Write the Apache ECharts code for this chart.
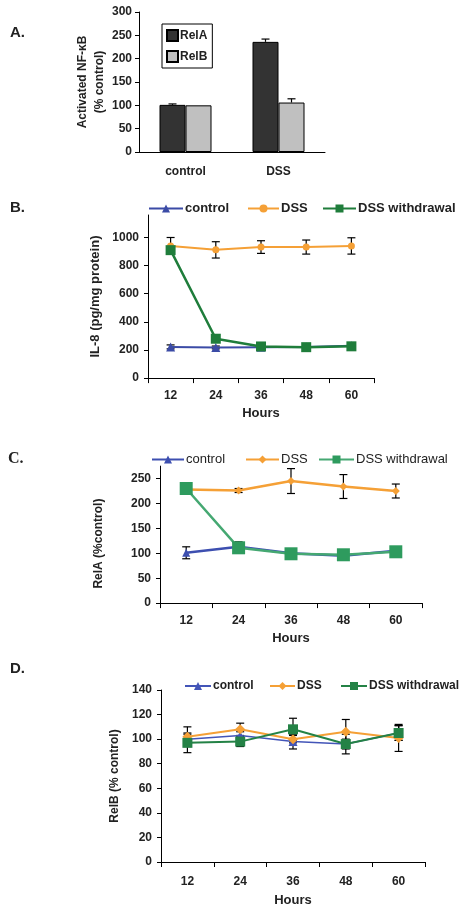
<!DOCTYPE html>
<html>
<head>
<meta charset="utf-8">
<script src="https://cdn.jsdelivr.net/npm/echarts@6/dist/echarts.min.js"></script>
<style>
html,body{margin:0;padding:0;background:#fff;}
.p{position:absolute;left:0;width:462px;}
</style>
</head>
<body>
<div id="cA" class="p" style="top:0;height:190px"></div>
<div id="cB" class="p" style="top:190px;height:235px"></div>
<div id="cC" class="p" style="top:425px;height:225px"></div>
<div id="cD" class="p" style="top:650px;height:262px"></div>
<script>
// ---------- DATA ----------
const groupsA = ['control', 'DSS'];
const relA_A = [101, 236];
const relA_A_err = [2, 6];
const relB_A = [100, 106];
const relB_A_err = [0, 8];

const hours = ['12', '24', '36', '48', '60'];

// Panel B: IL-8 (pg/mg protein)
const il8Control = [222, 218, 220, 222, 230];
const il8ControlErr = [14, 10, 12, 12, 12];
const il8DSS = [940, 912, 932, 932, 940];
const il8DSSErr = [60, 58, 45, 50, 58];
const il8Withdraw = [910, 280, 225, 220, 226];

// Panel C: RelA (%control)
const relAControl = [101, 113, 100, 95, 105];
const relAControlErr = [12, 10, 4, 4, 4];
const relADSS = [228, 226, 245, 234, 225];
const relADSSErr = [0, 4, 25, 24, 14];
const relAWithdraw = [230, 111, 99, 97, 103];

// Panel D: RelB (% control)
const relBControl = [100, 103, 98, 96, 105];
const relBControlErr = [4, 3, 6, 4, 6];
const relBDSS = [102, 108, 100, 106, 101];
const relBDSSErr = [8, 5, 3, 10, 11];
const relBWithdraw = [97, 98, 108, 96, 105];
const relBWithdrawErr = [8, 4, 9, 8, 6];

// ---------- HELPERS ----------
const FONT = 'Arial, "Liberation Sans", sans-serif';
const BLACK = '#000';

function errSeries(values, errs, opts) {
  opts = opts || {};
  const off = opts.offset || 0;
  const hw = opts.cap || 4;
  const topOnly = !!opts.topOnly;
  return {
    type: 'custom',
    silent: true,
    z: opts.z || 1,
    data: values.map((v, i) => [i, v, errs[i]]),
    renderItem: function (params, api) {
      const x = api.value(0), v = api.value(1), e = api.value(2);
      if (!e) return null;
      const t = api.coord([x, v + e]);
      const b = topOnly ? api.coord([x, v]) : api.coord([x, v - e]);
      const cx = t[0] + off;
      const st = { stroke: BLACK, lineWidth: 1.2 };
      const ch = [
        { type: 'line', shape: { x1: cx, y1: t[1], x2: cx, y2: b[1] }, style: st },
        { type: 'line', shape: { x1: cx - hw, y1: t[1], x2: cx + hw, y2: t[1] }, style: st }
      ];
      if (!topOnly) ch.push({ type: 'line', shape: { x1: cx - hw, y1: b[1], x2: cx + hw, y2: b[1] }, style: st });
      return { type: 'group', children: ch };
    }
  };
}

function yAxis(min, max, interval, name, nameGap, extra) {
  extra = extra || {};
  return {
    type: 'value', min: min, max: max, interval: interval,
    splitLine: { show: false },
    axisLine: { show: true, lineStyle: { color: BLACK, width: 1 } },
    axisTick: { show: true, inside: false, length: 4, lineStyle: { color: BLACK } },
    axisLabel: {
      color: '#222', fontFamily: FONT, fontWeight: 'bold', fontSize: 12,
      margin: extra.labelMargin || 9, showMaxLabel: extra.showMax !== false,
      formatter: function (v) { return String(v); }
    },
    name: name, nameLocation: 'middle', nameGap: nameGap,
    nameTextStyle: Object.assign({ color: '#222', fontFamily: FONT, fontWeight: 'bold', fontSize: 12 }, extra.nameStyle || {})
  };
}

function xAxisHours(nameGap, labelMargin) {
  return {
    type: 'category', data: hours, boundaryGap: true,
    axisLine: { show: true, lineStyle: { color: BLACK, width: 1 } },
    axisTick: { show: true, inside: false, length: 5, alignWithLabel: false, lineStyle: { color: BLACK } },
    axisLabel: { color: '#222', fontFamily: FONT, fontWeight: 'bold', fontSize: 12, margin: labelMargin },
    name: 'Hours', nameLocation: 'middle', nameGap: nameGap,
    nameTextStyle: { color: '#222', fontFamily: FONT, fontWeight: 'bold', fontSize: 13 }
  };
}

function lineSeries(name, data, color, lineColor, width, symbol, size) {
  return {
    type: 'line', name: name, data: data, symbol: symbol, symbolSize: size,
    lineStyle: { color: lineColor, width: width },
    itemStyle: { color: color },
    z: 3
  };
}

function legendItem(name, left, top, iw, textStyle) {
  return {
    data: [name], left: left, top: top, itemWidth: iw, itemHeight: 10,
    padding: 0, itemGap: 0, selectedMode: false,
    textStyle: Object.assign({ color: '#222', fontFamily: FONT, padding: [0, 0, 0, -3] }, textStyle)
  };
}

function label(text, left, top, font) {
  return { type: 'text', left: left, top: top, style: { text: text, font: font || 'bold 15px Arial', fill: '#222' } };
}

// ---------- PANEL A ----------
const chA = echarts.init(document.getElementById('cA'));
chA.setOption({
  animation: false,
  graphic: [label('A.', 10, 25)],
  grid: { left: 139, top: 12, width: 186, height: 140 },
  legend: {
    data: [{ name: 'RelA', icon: 'rect' }, { name: 'RelB', icon: 'rect' }],
    orient: 'vertical', left: 162, top: 24,
    itemWidth: 11, itemHeight: 11, itemGap: 8, padding: [5, 5, 5, 4],
    borderColor: BLACK, borderWidth: 1, backgroundColor: '#fff', selectedMode: false,
    textStyle: { color: '#222', fontFamily: FONT, fontWeight: 'bold', fontSize: 12, padding: [0, 0, 0, -3] }
  },
  xAxis: {
    type: 'category', data: groupsA,
    axisLine: { show: true, lineStyle: { color: BLACK } },
    axisTick: { show: false },
    axisLabel: { color: '#222', fontFamily: FONT, fontWeight: 'bold', fontSize: 12, margin: 14 }
  },
  yAxis: yAxis(0, 300, 50, 'Activated NF-κB\n(% control)', 26, { labelMargin: 7, nameStyle: { lineHeight: 17 } }),
  series: [
    { type: 'bar', name: 'RelA', data: relA_A, barWidth: 26, barGap: '0%', itemStyle: { color: '#333333', borderColor: BLACK, borderWidth: 1 } },
    { type: 'bar', name: 'RelB', data: relB_A, barWidth: 26, barGap: '0%', itemStyle: { color: '#c0c0c0', borderColor: BLACK, borderWidth: 1 } },
    errSeries(relA_A, relA_A_err, { offset: -13, topOnly: true, z: 5 }),
    errSeries(relB_A, relB_A_err, { offset: 13, topOnly: true, z: 5 })
  ]
});

// ---------- PANEL B ----------
const blueB = '#3b4ba6', orange = '#f5a036', greenB = '#1f7d3b';
const chB = echarts.init(document.getElementById('cB'));
const legB = { fontWeight: 'bold', fontSize: 13 };
chB.setOption({
  animation: false,
  graphic: [label('B.', 10, 10)],
  grid: { left: 148, top: 25, width: 226, height: 167.7 },
  legend: [
    legendItem('control', 148, 12, 34, legB),
    legendItem('DSS', 247, 12, 31, legB),
    legendItem('DSS withdrawal', 322, 12, 33, legB)
  ],
  xAxis: xAxisHours(25, 12),
  yAxis: yAxis(0, 1160, 200, 'IL-8 (pg/mg protein)', 46, { showMax: false, nameStyle: { fontSize: 13 } }),
  series: [
    errSeries(il8Control, il8ControlErr, { cap: 4 }),
    errSeries(il8DSS, il8DSSErr, { cap: 4 }),
    lineSeries('control', il8Control, blueB, blueB, 2, 'triangle', 9),
    lineSeries('DSS', il8DSS, orange, orange, 2, 'circle', 7),
    lineSeries('DSS withdrawal', il8Withdraw, greenB, greenB, 2.5, 'rect', 10)
  ]
});

// ---------- PANEL C ----------
const blueC = '#3d4fb0', greenC = '#2e9b5e', greenCl = '#45a872';
const chC = echarts.init(document.getElementById('cC'));
const legC = { fontWeight: 'normal', fontSize: 13 };
chC.setOption({
  animation: false,
  graphic: [label('C.', 8, 26, 'bold 16px "Liberation Serif", serif')],
  grid: { left: 160, top: 41.1, width: 262, height: 144.9 },
  legend: [
    legendItem('control', 151, 28, 32, legC),
    legendItem('DSS', 245, 28, 33, legC),
    legendItem('DSS withdrawal', 318, 28, 35, legC)
  ],
  xAxis: xAxisHours(25, 12),
  yAxis: yAxis(0, 275, 50, 'RelA (%control)', 55, { showMax: false, nameStyle: { padding: [0, 18, 0, 0] } }),
  series: [
    errSeries(relAControl, relAControlErr, { cap: 4 }),
    errSeries(relADSS, relADSSErr, { cap: 4 }),
    lineSeries('control', relAControl, blueC, blueC, 2.5, 'triangle', 8),
    lineSeries('DSS', relADSS, orange, orange, 2.5, 'diamond', 8),
    lineSeries('DSS withdrawal', relAWithdraw, greenC, greenCl, 2.5, 'rect', 13)
  ]
});

// ---------- PANEL D ----------
const blueD = '#4355b8', greenD = '#248246';
const chD = echarts.init(document.getElementById('cD'));
const legD = { fontWeight: 'bold', fontSize: 12 };
chD.setOption({
  animation: false,
  graphic: [label('D.', 10, 11)],
  grid: { left: 161, top: 40, width: 264, height: 172 },
  legend: [
    legendItem('control', 184, 30, 26, legD),
    legendItem('DSS', 269, 30, 25, legD),
    legendItem('DSS withdrawal', 340, 30, 26, legD)
  ],
  xAxis: xAxisHours(32, 14),
  yAxis: yAxis(0, 140, 20, 'RelB (% control)', 39),
  series: [
    errSeries(relBControl, relBControlErr, { cap: 4 }),
    errSeries(relBDSS, relBDSSErr, { cap: 4 }),
    errSeries(relBWithdraw, relBWithdrawErr, { cap: 4 }),
    lineSeries('control', relBControl, blueD, blueD, 1.5, 'triangle', 9),
    lineSeries('DSS', relBDSS, orange, orange, 2, 'diamond', 10),
    lineSeries('DSS withdrawal', relBWithdraw, greenD, greenD, 2, 'rect', 10)
  ]
});
</script>
</body>
</html>
